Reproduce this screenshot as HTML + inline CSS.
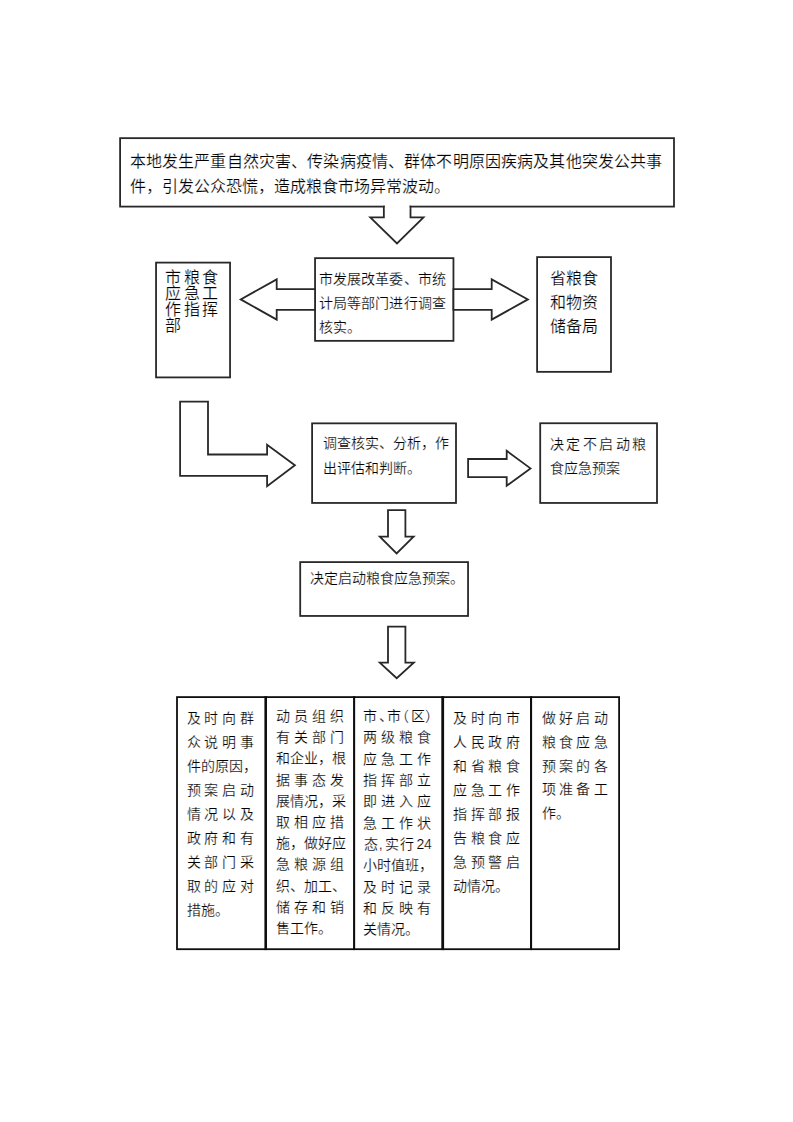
<!DOCTYPE html><html lang="zh-CN"><head><meta charset="utf-8"><style>html,body{margin:0;padding:0;background:#fff;width:793px;height:1122px;overflow:hidden}
.t{position:absolute;white-space:nowrap;line-height:1;-webkit-text-stroke:0.2px #fff;color:#000;font-family:"Liberation Sans",sans-serif}
.j{text-align:justify;text-align-last:justify}
svg{position:absolute;left:0;top:0}</style></head><body><svg width="793" height="1122" viewBox="0 0 793 1122"><rect x="120.1" y="138.15" width="553.90" height="68.45" fill="#fff" stroke="#282828" stroke-width="1.8"/>
<polygon points="383.85,206.6 410.5,206.6 410.5,217.4 423.5,217.4 397.0,243.4 370.3,217.4 383.85,217.4" fill="#fff" stroke="#282828" stroke-width="1.8" stroke-linejoin="miter"/>
<rect x="384.9" y="204.5" width="24.5" height="4.5" fill="#fff"/>
<rect x="156.05" y="262.6" width="74.00" height="114.80" fill="#fff" stroke="#282828" stroke-width="1.8"/>
<rect x="315.05" y="258.15" width="138.40" height="82.70" fill="#fff" stroke="#282828" stroke-width="1.8"/>
<polygon points="315.05,289.1 276.7,289.1 276.7,279.4 240.7,299.4 276.7,319.6 276.7,309.9 315.05,309.9" fill="#fff" stroke="#282828" stroke-width="1.8" stroke-linejoin="miter"/>
<polygon points="453.45,289.1 491.7,289.1 491.7,279.4 527.9,299.4 491.7,319.6 491.7,309.9 453.45,309.9" fill="#fff" stroke="#282828" stroke-width="1.8" stroke-linejoin="miter"/>
<rect x="537.1" y="257.1" width="73.90" height="114.75" fill="#fff" stroke="#282828" stroke-width="1.8"/>
<polygon points="180.1,401.7 208,401.7 208,454.5 267.1,454.5 267.1,444.8 294.9,465.3 267.1,486.3 267.1,475.9 180.1,475.9" fill="#fff" stroke="#282828" stroke-width="1.8" stroke-linejoin="miter"/>
<rect x="312.1" y="423.35" width="143.90" height="79.60" fill="#fff" stroke="#282828" stroke-width="1.8"/>
<polygon points="468.1,459 506.7,459 506.7,450.8 530.5,468.4 506.7,485.8 506.7,477.1 468.1,477.1" fill="#fff" stroke="#282828" stroke-width="1.8" stroke-linejoin="miter"/>
<rect x="540.2" y="423.25" width="116.80" height="79.70" fill="#fff" stroke="#282828" stroke-width="1.8"/>
<polygon points="388,510.1 405.4,510.1 405.4,536.6 413.6,536.6 396.6,553.5 379.8,536.6 388,536.6" fill="#fff" stroke="#282828" stroke-width="1.8" stroke-linejoin="miter"/>
<rect x="300.2" y="562.1" width="167.85" height="53.85" fill="#fff" stroke="#282828" stroke-width="1.8"/>
<polygon points="388,626.6 405.4,626.6 405.4,662.6 413.8,662.6 396.7,678.2 379.8,662.6 388,662.6" fill="#fff" stroke="#282828" stroke-width="1.8" stroke-linejoin="miter"/>
<rect x="177.0" y="697.1" width="442.10" height="252.10" fill="#fff" stroke="#0e0e0e" stroke-width="1.8"/>
<line x1="265.7" y1="696.2" x2="265.7" y2="950.1" stroke="#0e0e0e" stroke-width="2.6"/>
<line x1="354.1" y1="696.2" x2="354.1" y2="950.1" stroke="#0e0e0e" stroke-width="2.1"/>
<line x1="442.7" y1="696.2" x2="442.7" y2="950.1" stroke="#0e0e0e" stroke-width="2.8"/>
<line x1="531.05" y1="696.2" x2="531.05" y2="950.1" stroke="#0e0e0e" stroke-width="2.1"/></svg>
<div class="t j" style="left:129.80px;top:153.50px;width:532.40px;font-size:16px">本地发生严重自然灾害、传染病疫情、群体不明原因疾病及其他突发公共事</div>
<div class="t" style="left:129.80px;top:179.10px;font-size:16px">件，引发公众恐慌，造成粮食市场异常波动。</div>
<div class="t j" style="left:165.40px;top:269.80px;width:52.60px;font-size:16px">市粮食</div>
<div class="t j" style="left:165.40px;top:285.83px;width:52.60px;font-size:16px">应急工</div>
<div class="t j" style="left:165.40px;top:301.87px;width:52.60px;font-size:16px">作指挥</div>
<div class="t" style="left:165.40px;top:317.90px;font-size:16px">部</div>
<div class="t j" style="left:319.00px;top:272.00px;width:126.80px;font-size:14px">市发展改革委、市统</div>
<div class="t j" style="left:319.00px;top:296.05px;width:126.80px;font-size:14px">计局等部门进行调查</div>
<div class="t" style="left:319.00px;top:320.10px;font-size:14px">核实。</div>
<div class="t j" style="left:549.80px;top:270.60px;width:47.40px;font-size:16px">省粮食</div>
<div class="t j" style="left:549.80px;top:294.60px;width:47.40px;font-size:16px">和物资</div>
<div class="t j" style="left:549.80px;top:318.60px;width:47.40px;font-size:16px">储备局</div>
<div class="t j" style="left:322.80px;top:436.20px;width:123.20px;font-size:14px">调查核实、分析，作</div>
<div class="t" style="left:322.80px;top:461.30px;font-size:14px">出评估和判断。</div>
<div class="t j" style="left:549.60px;top:437.20px;width:96.60px;font-size:14px">决定不启动粮</div>
<div class="t" style="left:549.60px;top:461.10px;font-size:14px">食应急预案</div>
<div class="t" style="left:309.60px;top:571.20px;font-size:14px">决定启动粮食应急预案。</div>
<div class="t j" style="left:186.80px;top:711.10px;width:67.00px;font-size:14px">及时向群</div>
<div class="t j" style="left:186.80px;top:735.08px;width:67.00px;font-size:14px">众说明事</div>
<div class="t" style="left:186.80px;top:759.05px;font-size:14px">件的原因，</div>
<div class="t j" style="left:186.80px;top:783.02px;width:67.00px;font-size:14px">预案启动</div>
<div class="t j" style="left:186.80px;top:807.00px;width:67.00px;font-size:14px">情况以及</div>
<div class="t j" style="left:186.80px;top:830.98px;width:67.00px;font-size:14px">政府和有</div>
<div class="t j" style="left:186.80px;top:854.95px;width:67.00px;font-size:14px">关部门采</div>
<div class="t j" style="left:186.80px;top:878.92px;width:67.00px;font-size:14px">取的应对</div>
<div class="t" style="left:186.80px;top:902.90px;font-size:14px">措施。</div>
<div class="t j" style="left:275.80px;top:709.00px;width:68.40px;font-size:14px">动员组织</div>
<div class="t j" style="left:275.80px;top:730.19px;width:68.40px;font-size:14px">有关部门</div>
<div class="t j" style="left:275.80px;top:751.38px;width:68.40px;font-size:14px">和企业，根</div>
<div class="t j" style="left:275.80px;top:772.57px;width:68.40px;font-size:14px">据事态发</div>
<div class="t j" style="left:275.80px;top:793.76px;width:68.40px;font-size:14px">展情况，采</div>
<div class="t j" style="left:275.80px;top:814.95px;width:68.40px;font-size:14px">取相应措</div>
<div class="t j" style="left:275.80px;top:836.14px;width:68.40px;font-size:14px">施，做好应</div>
<div class="t j" style="left:275.80px;top:857.33px;width:68.40px;font-size:14px">急粮源组</div>
<div class="t j" style="left:275.80px;top:878.52px;width:68.40px;font-size:14px">织、加工、</div>
<div class="t j" style="left:275.80px;top:899.71px;width:68.40px;font-size:14px">储存和销</div>
<div class="t" style="left:275.80px;top:920.90px;font-size:14px">售工作。</div>
<div class="t" style="left:363.40px;top:709.00px;font-size:14px">市</div>
<div class="t" style="left:378.70px;top:709.00px;font-size:14px">、</div>
<div class="t" style="left:387.30px;top:709.00px;font-size:14px">市</div>
<div class="t" style="left:394.90px;top:709.00px;font-size:14px">（</div>
<div class="t" style="left:411.00px;top:709.00px;font-size:14px">区</div>
<div class="t" style="left:424.60px;top:709.00px;font-size:14px">）</div>
<div class="t j" style="left:363.40px;top:730.33px;width:67.60px;font-size:14px">两级粮食</div>
<div class="t j" style="left:363.40px;top:751.66px;width:67.60px;font-size:14px">应急工作</div>
<div class="t j" style="left:363.40px;top:772.99px;width:67.60px;font-size:14px">指挥部立</div>
<div class="t j" style="left:363.40px;top:794.32px;width:67.60px;font-size:14px">即进入应</div>
<div class="t j" style="left:363.40px;top:815.65px;width:67.60px;font-size:14px">急工作状</div>
<div class="t" style="left:364.00px;top:836.98px;font-size:14px">态</div>
<div class="t" style="left:378.70px;top:836.98px;font-size:14px">,</div>
<div class="t" style="left:384.70px;top:836.98px;font-size:14px">实</div>
<div class="t" style="left:400.40px;top:836.98px;font-size:14px">行</div>
<div class="t" style="left:416.50px;top:836.98px;font-size:14px">2</div>
<div class="t" style="left:424.10px;top:836.98px;font-size:14px">4</div>
<div class="t" style="left:363.40px;top:858.31px;font-size:14px">小时值班，</div>
<div class="t j" style="left:363.40px;top:879.64px;width:67.60px;font-size:14px">及时记录</div>
<div class="t j" style="left:363.40px;top:900.97px;width:67.60px;font-size:14px">和反映有</div>
<div class="t" style="left:363.40px;top:922.30px;font-size:14px">关情况。</div>
<div class="t j" style="left:452.80px;top:711.10px;width:67.20px;font-size:14px">及时向市</div>
<div class="t j" style="left:452.80px;top:735.10px;width:67.20px;font-size:14px">人民政府</div>
<div class="t j" style="left:452.80px;top:759.10px;width:67.20px;font-size:14px">和省粮食</div>
<div class="t j" style="left:452.80px;top:783.10px;width:67.20px;font-size:14px">应急工作</div>
<div class="t j" style="left:452.80px;top:807.10px;width:67.20px;font-size:14px">指挥部报</div>
<div class="t j" style="left:452.80px;top:831.10px;width:67.20px;font-size:14px">告粮食应</div>
<div class="t j" style="left:452.80px;top:855.10px;width:67.20px;font-size:14px">急预警启</div>
<div class="t" style="left:452.80px;top:879.10px;font-size:14px">动情况。</div>
<div class="t j" style="left:541.60px;top:711.10px;width:66.20px;font-size:14px">做好启动</div>
<div class="t j" style="left:541.60px;top:734.85px;width:66.20px;font-size:14px">粮食应急</div>
<div class="t j" style="left:541.60px;top:758.60px;width:66.20px;font-size:14px">预案的各</div>
<div class="t j" style="left:541.60px;top:782.35px;width:66.20px;font-size:14px">项准备工</div>
<div class="t" style="left:541.60px;top:806.10px;font-size:14px">作。</div></body></html>
